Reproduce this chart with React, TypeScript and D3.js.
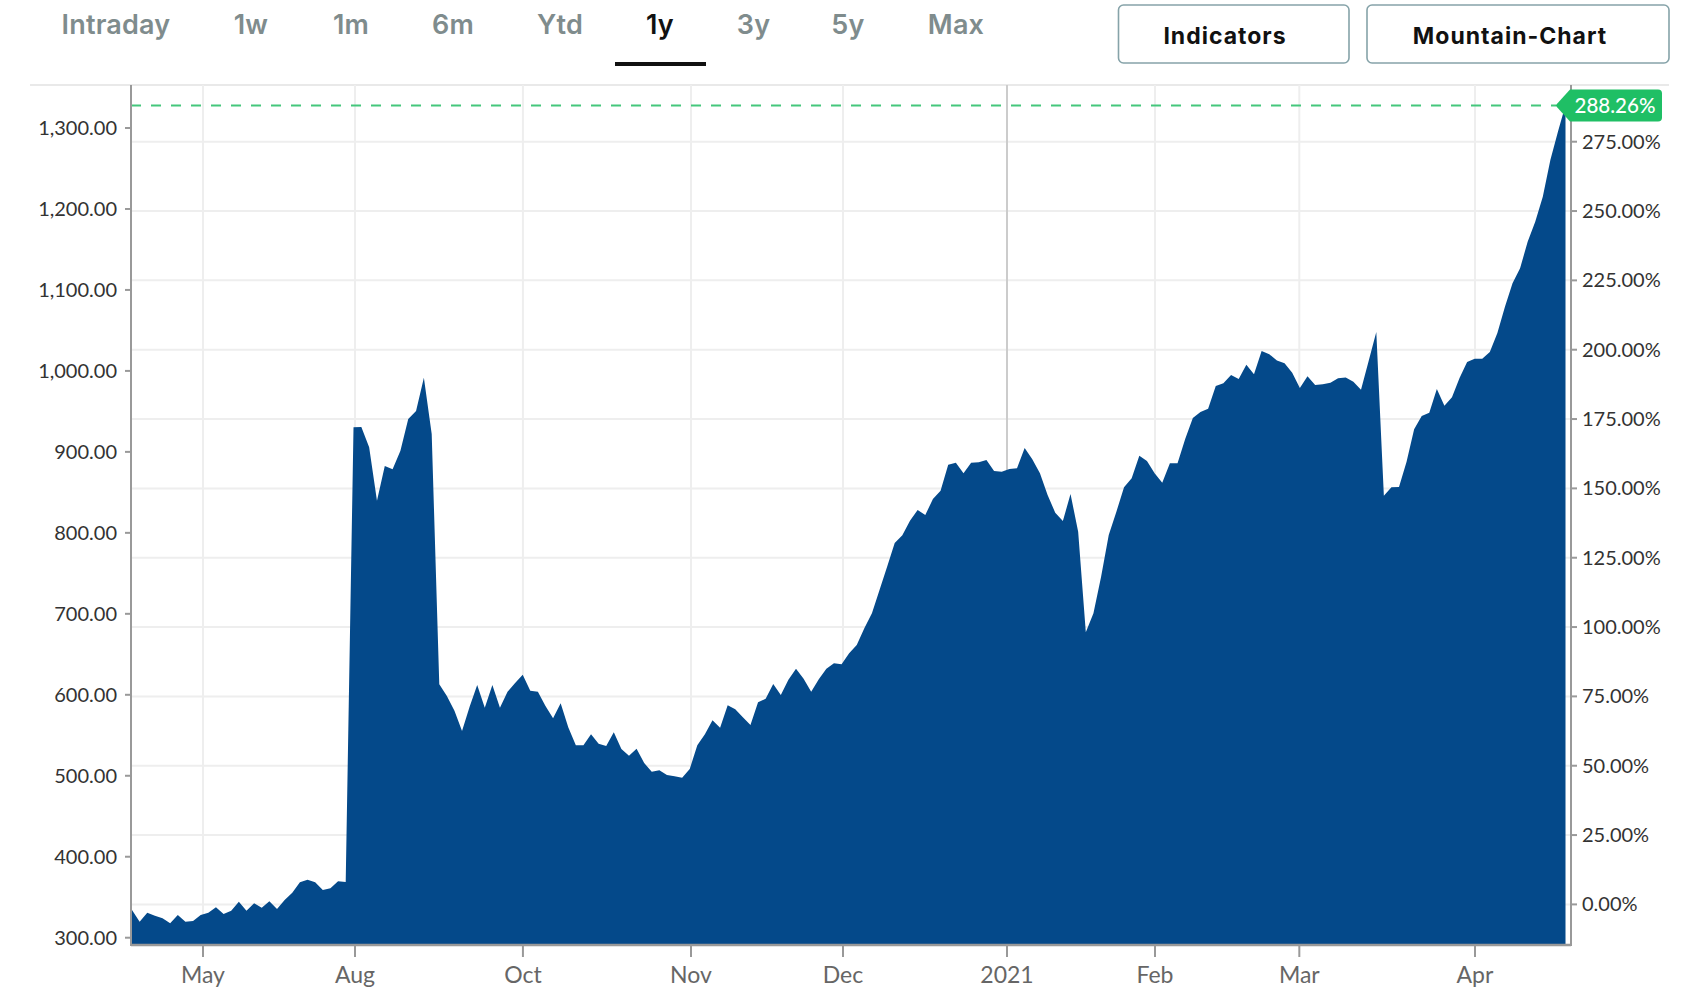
import React from "react";
import * as d3 from "d3";

const tabs = ["Intraday", "1w", "1m", "6m", "Ytd", "1y", "3y", "5y", "Max"];
const tabCenters = [116, 251, 351, 453, 560, 660, 753.5, 848, 956];
const activeTab = "1y";

const leftTicks = [300, 400, 500, 600, 700, 800, 900, 1000, 1100, 1200, 1300];
const pctTicks = [0, 25, 50, 75, 100, 125, 150, 175, 200, 225, 250, 275];
const monthLabels = ["May", "Aug", "Oct", "Nov", "Dec", "2021", "Feb", "Mar", "Apr"];
const monthPositions = [9.3, 29.19, 51.03, 73.17, 93.19, 114.69, 134.05, 152.93, 176.04];

const basePrice = 342;
const lastPct = 288.26;

const pricesApr = [334.2, 319.8, 330.9, 327.2, 324, 317.8, 328, 319.8, 320.6, 328, 330.9, 337.5, 329.3, 333.3, 344.5, 333.3, 342.5, 337, 345, 335.4, 346.6, 355.6, 368.4, 371.6, 368.4, 358.9, 361, 369.7, 368.8];
const pricesAug = [930.3, 930.7, 905.6, 839.7, 882.5, 878.5, 901.4, 940.6, 950.5, 991.6, 922.1, 612.9, 598.5, 580.3, 555.3, 585.3, 612.1, 584, 612.1, 584, 603.8, 614.5, 624.8, 605, 603.8];
const pricesOct = [586.2, 571, 589.5, 559.8, 537.6, 537.6, 551.2, 539.6, 536.7, 553.7, 533, 524.8, 533.4, 515.8, 505, 506.7, 500.9, 499.3, 497.6, 508.3, 537.6, 551.2, 568.5, 559.4, 587, 582, 572.2, 562.7, 590.7, 595.2, 613.3, 599.7, 618.6, 632.2, 619.9, 603.8, 619.1, 632.2, 638.9, 637.6, 651.2, 661.5];
const pricesDec = [682.1, 700.6, 729.4, 758.2, 787.5, 797, 815, 828.2, 822, 841.8, 852, 884.2, 886.6, 873.5, 886.6, 887.1, 890, 876.4, 875.5, 878.8, 879.7, 904.8, 890.8, 873.5, 846.7, 824.9, 814.6, 848, 801.4, 677.2, 700.6, 745.8, 797.3, 826.1, 856.2, 867.4, 895.3, 888.7, 873.5, 861.9, 885.9, 885.9];
const pricesFeb = [915.9, 941.8, 949.2, 953.3, 981.3, 984.7, 994.9, 990, 1007.7, 995.8, 1024.6, 1020.6, 1013, 1009.4, 997.8, 978.9, 993.3, 982.6, 983.4, 985.4, 990.9, 992, 986.7, 976.8, 1012.2, 1048];
const pricesMar = [845.9, 856.2, 856.6, 887.9, 927.9, 944.3, 948.4, 977.6, 957, 967.4, 991.2, 1011, 1015, 1015, 1023.3, 1046.8, 1079.3, 1108.2, 1126.7, 1159.6, 1184.3, 1215.1, 1260.5, 1295.4, 1328.4];

const prices = [...pricesApr, ...pricesAug, ...pricesOct, ...pricesDec, ...pricesFeb, ...pricesMar];

const W = 1688;
const H = 1004;
const plot = { left: 131, right: 1571, top: 85, bottom: 945 };

const x = d3
  .scaleLinear()
  .domain([0, 28, 39, 51, 100, 163, 188])
  .range([132, 345.7, 431.7, 522.7, 894.7, 1376.3, 1565.5]);
const y = d3.scaleLinear().domain([300, 1300]).range([937.7, 128]);
const yPct = d3.scaleLinear().domain([0, 275]).range([904.4, 141.7]);

const areaPath = d3
  .area<number>()
  .x((_, i) => x(i))
  .y0(plot.bottom)
  .y1((d) => y(d))(prices) as string;

const fmtPrice = d3.format(",.2f");
const fmtPct = (v: number) => d3.format(".2f")(v) + "%";
const labelFont = "Lato, 'Open Sans', sans-serif";
const headFont = "Inter, 'Noto Sans', sans-serif";

export default function App() {
  const lastY = y(basePrice * (1 + lastPct / 100));
  return (
    <svg
      width={W}
      height={H}
      viewBox={`0 0 ${W} ${H}`}
      style={{ position: "absolute", left: 0, top: 0, display: "block", background: "#fff" }}
    >
      {tabs.map((t, i) => (
        <text
          key={t}
          x={tabCenters[i]}
          y={33.5}
          textAnchor="middle"
          fontFamily={headFont}
          fontSize={27}
          fontWeight={600}
          letterSpacing={0.2}
          fill={t === activeTab ? "#111" : "#7f8c8d"}
        >
          {t}
        </text>
      ))}
      <rect x={615} y={62} width={91} height={4} fill="#111" />

      <rect x={1118.5} y={5} width={230.5} height={58} rx={5} fill="#fff" stroke="#86a3a9" strokeWidth={1.6} />
      <rect x={1367} y={5} width={302} height={58} rx={5} fill="#fff" stroke="#86a3a9" strokeWidth={1.6} />
      <text x={1225} y={44} textAnchor="middle" fontFamily={headFont} fontSize={23} fontWeight={700} letterSpacing={1} fill="#111">
        Indicators
      </text>
      <text x={1510} y={44} textAnchor="middle" fontFamily={headFont} fontSize={23} fontWeight={700} letterSpacing={1} fill="#111">
        Mountain-Chart
      </text>

      <line x1={30} x2={1669} y1={85} y2={85} stroke="#e9e9e9" strokeWidth={2} />

      {pctTicks.map((p) => (
        <line key={p} x1={plot.left} x2={plot.right} y1={yPct(p)} y2={yPct(p)} stroke="#eeeeee" strokeWidth={2} />
      ))}
      {monthLabels.map((m, i) => (
        <line
          key={m}
          x1={x(monthPositions[i])}
          x2={x(monthPositions[i])}
          y1={plot.top}
          y2={plot.bottom}
          stroke={m === "2021" ? "#cccccc" : "#eeeeee"}
          strokeWidth={2}
        />
      ))}

      <path d={areaPath} fill="#04498a" />

      <line x1={plot.left} x2={1556} y1={lastY} y2={lastY} stroke="#44c77c" strokeWidth={2} strokeDasharray="10 10" />

      <line x1={plot.left} x2={plot.left} y1={plot.top} y2={plot.bottom + 1} stroke="#999" strokeWidth={2} />
      <line x1={plot.right} x2={plot.right} y1={plot.top} y2={plot.bottom + 1} stroke="#999" strokeWidth={2} />
      <line x1={plot.left} x2={plot.right} y1={plot.bottom} y2={plot.bottom} stroke="#999" strokeWidth={2.5} />

      {leftTicks.map((v) => (
        <g key={v}>
          <line x1={125} x2={plot.left} y1={y(v)} y2={y(v)} stroke="#999" strokeWidth={2} />
          <text x={117} y={y(v) + 7} textAnchor="end" fontFamily={labelFont} fontSize={20} fill="#333">
            {fmtPrice(v)}
          </text>
        </g>
      ))}
      {pctTicks.map((p) => (
        <g key={p}>
          <line x1={plot.right} x2={plot.right + 6} y1={yPct(p)} y2={yPct(p)} stroke="#999" strokeWidth={2} />
          <text x={1582} y={yPct(p) + 7} fontFamily={labelFont} fontSize={20} fill="#333">
            {fmtPct(p)}
          </text>
        </g>
      ))}
      {monthLabels.map((m, i) => (
        <g key={m}>
          <line x1={x(monthPositions[i])} x2={x(monthPositions[i])} y1={plot.bottom} y2={957} stroke="#999" strokeWidth={2} />
          <text x={x(monthPositions[i])} y={983} textAnchor="middle" fontFamily={labelFont} fontSize={23} fill="#666">
            {m}
          </text>
        </g>
      ))}

      <path
        d={`M${1555.5},${lastY} L${1570},${lastY - 16} L${1658},${lastY - 16} Q${1662},${lastY - 16} ${1662},${lastY - 12} L${1662},${lastY + 12} Q${1662},${lastY + 16} ${1658},${lastY + 16} L${1570},${lastY + 16} Z`}
        fill="#1fbf65"
      />
      <text x={1615} y={lastY + 8} textAnchor="middle" fontFamily={labelFont} fontSize={20.5} fontWeight={500} fill="#fff">
        {fmtPct(lastPct)}
      </text>
    </svg>
  );
}
